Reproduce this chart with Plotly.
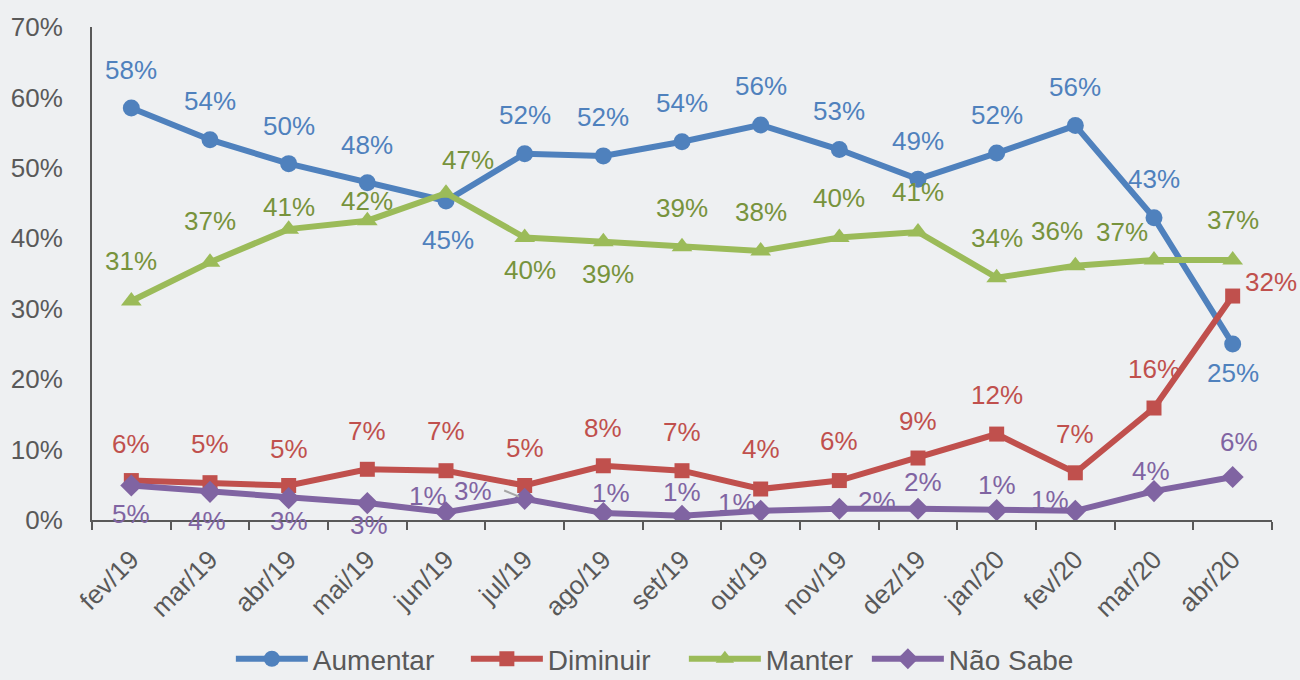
import plotly.graph_objects as go

months = ["fev/19", "mar/19", "abr/19", "mai/19", "jun/19", "jul/19", "ago/19", "set/19",
          "out/19", "nov/19", "dez/19", "jan/20", "fev/20", "mar/20", "abr/20"]

aumentar = [58.5, 54.0, 50.6, 47.9, 45.3, 52.0, 51.7, 53.7, 56.1, 52.6, 48.4, 52.1, 56.0, 42.9, 25.0]
diminuir = [5.6, 5.3, 4.9, 7.2, 7.0, 4.9, 7.7, 7.0, 4.4, 5.6, 8.8, 12.2, 6.7, 15.9, 31.8]
manter = [31.1, 36.6, 41.3, 42.5, 46.4, 40.1, 39.5, 38.8, 38.2, 40.1, 40.9, 34.4, 36.1, 36.9, 36.9]
nao_sabe = [4.9, 4.0, 3.1, 2.4, 1.1, 3.0, 1.0, 0.6, 1.3, 1.6, 1.6, 1.4, 1.3, 4.1, 6.1]

aumentar_lbl = ["58%", "54%", "50%", "48%", "45%", "52%", "52%", "54%", "56%", "53%", "49%", "52%", "56%", "43%", "25%"]
diminuir_lbl = ["6%", "5%", "5%", "7%", "7%", "5%", "8%", "7%", "4%", "6%", "9%", "12%", "7%", "16%", "32%"]
manter_lbl = ["31%", "37%", "41%", "42%", "47%", "40%", "39%", "39%", "38%", "40%", "41%", "34%", "36%", "37%", "37%"]
nao_sabe_lbl = ["5%", "4%", "3%", "3%", "1%", "3%", "1%", "1%", "1%", "2%", "2%", "1%", "1%", "4%", "6%"]

# label offsets in screen pixels (dx, dy; dy positive = downwards)
aumentar_off = [(0, -38), (0, -39), (0, -38), (0, -38), (2, 39), (0, -39), (0, -39), (0, -39),
                (0, -39), (0, -39), (0, -38), (0, -38), (0, -39), (0, -39), (0, 29)]
diminuir_off = [(0, -37), (0, -39), (0, -36), (0, -38), (0, -40), (0, -37), (0, -38), (0, -39),
                (0, -40), (0, -40), (0, -37), (0, -39), (0, -39), (0, -39), (38, -14)]
manter_off = [(0, -40), (0, -41), (0, -22), (0, -20), (22, -33), (5, 32), (5, 32), (0, -39),
              (0, -39), (0, -40), (0, -40), (0, -40), (-18, -35), (-32, -28), (0, -40)]
nao_sabe_off = [(0, 29), (-3, 29), (0, 23), (2, 22), (-18, -16), (-52, -8), (8, -20), (0, -24),
                (-24, -8), (38, -8), (5, -27), (0, -25), (-25, -11), (-3, -20), (6, -35)]

FONT = "Liberation Sans, Arial, sans-serif"
GREY = "#595959"

series = [
    ("Aumentar", aumentar, aumentar_lbl, aumentar_off, "#4F81BD", "#4F81BD", "circle", 17, 148),
    ("Diminuir", diminuir, diminuir_lbl, diminuir_off, "#C0504D", "#C0504D", "square", 15, 131),
    ("Manter", manter, manter_lbl, manter_off, "#9BBB59", "#77933C", "triangle-up", 18, 96),
    ("Não Sabe", nao_sabe, nao_sabe_lbl, nao_sabe_off, "#8064A2", "#8064A2", "diamond", 17, 125),
]

fig = go.Figure()
annotations = []
for name, vals, lbls, offs, col, tcol, sym, msize, lw in series:
    fig.add_trace(go.Scatter(
        x=months, y=vals, name=name, mode="lines+markers",
        line=dict(color=col, width=6),
        marker=dict(symbol=sym, size=msize, color=col),
        hoverinfo="skip", legendwidth=lw,
    ))
    for m, v, t, (dx, dy) in zip(months, vals, lbls, offs):
        annotations.append(dict(
            x=m, y=v, text=t, showarrow=False, xshift=dx, yshift=-dy,
            xanchor="center", yanchor="middle",
            font=dict(family=FONT, size=26, color=tcol),
        ))

# small grey leader line for the displaced "3%" label of Não Sabe in jul/19
annotations.append(dict(
    x=months[5], y=nao_sabe[5], text="", showarrow=True, arrowhead=0,
    arrowwidth=2, arrowcolor="#a6a6a6", ax=-22, ay=-9, standoff=6,
))

fig.update_layout(
    width=1300, height=680,
    margin=dict(l=92, r=28, t=27, b=160, autoexpand=False),
    paper_bgcolor="#eef0f2", plot_bgcolor="#eef0f2",
    font=dict(family=FONT, size=26, color=GREY),
    annotations=annotations,
    showlegend=True,
    legend=dict(orientation="h", x=0.477, xanchor="center", y=-0.282, yanchor="middle",
                itemwidth=72,
                font=dict(family=FONT, size=28, color=GREY), bgcolor="rgba(0,0,0,0)"),
    xaxis=dict(
        type="category", showgrid=False, zeroline=False, automargin=False,
        showline=True, linecolor=GREY, linewidth=2,
        ticks="outside", tickson="boundaries", ticklen=8, tickwidth=2, tickcolor=GREY,
        tickangle=-45, tickfont=dict(family=FONT, size=26, color=GREY),
        ticklabelstandoff=12,
        range=[-0.5, 14.5],
    ),
    yaxis=dict(
        range=[0, 70], dtick=10, ticksuffix="%", showgrid=False, zeroline=False,
        showline=True, linecolor=GREY, linewidth=2, ticks="", automargin=False,
        tickfont=dict(family=FONT, size=26, color=GREY), ticklabelstandoff=22,
    ),
)

fig.write_html("out.html", config={"displayModeBar": False},
               post_script="document.body.style.margin='0';document.body.style.overflow='hidden';")
